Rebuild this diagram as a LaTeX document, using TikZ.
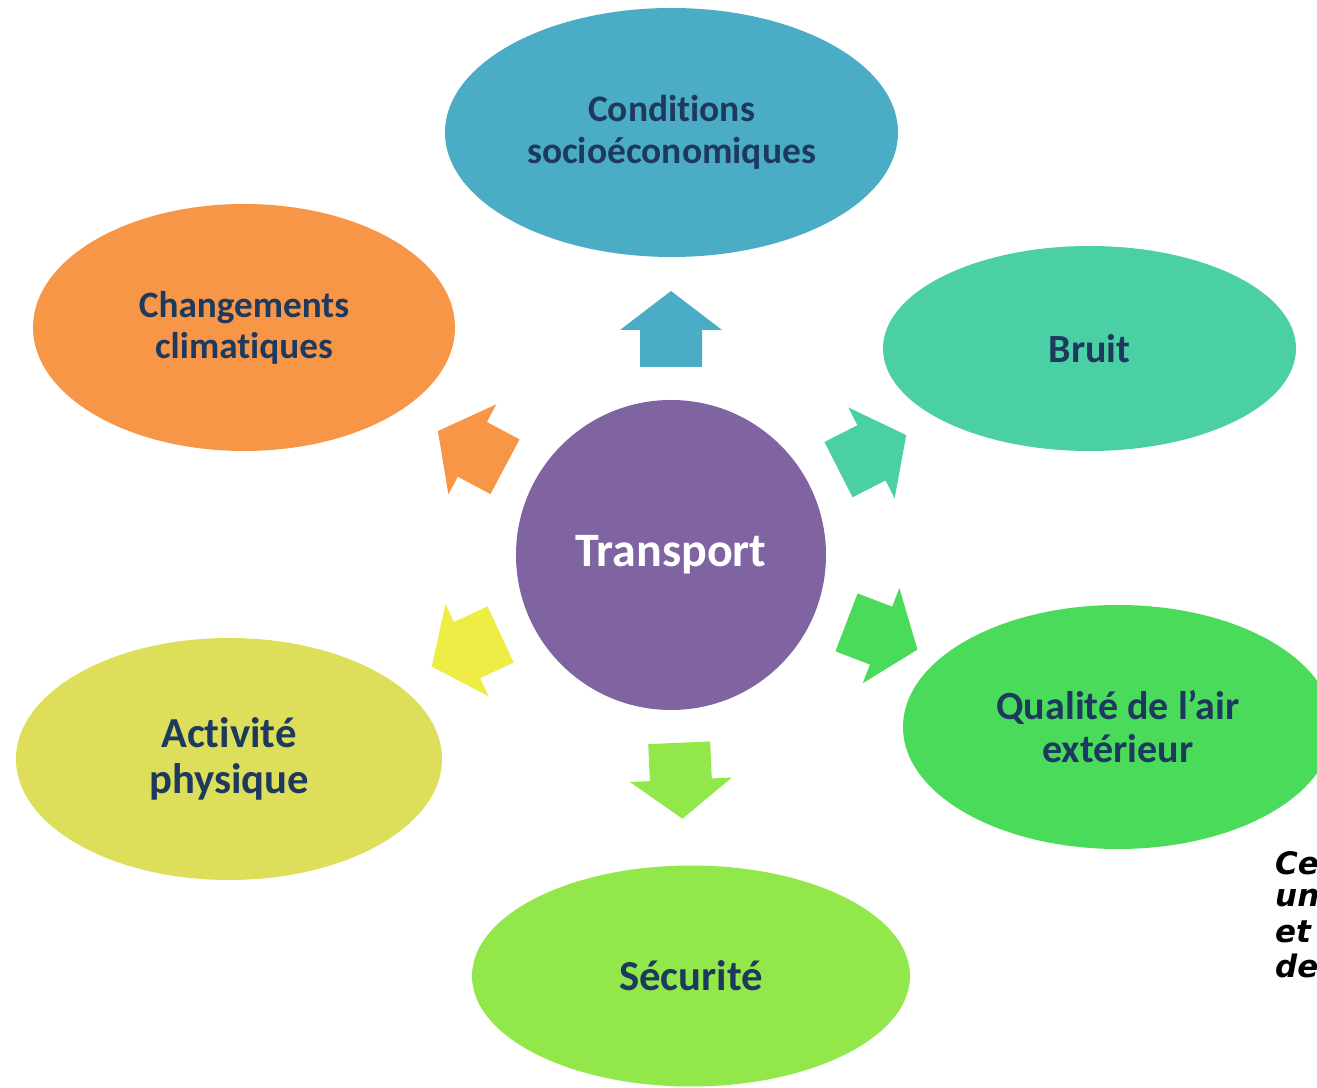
\documentclass[tikz,border=0pt]{standalone}
\usepackage{fontspec}
\setmainfont{Carlito}[Ligatures=NoCommon]
\newfontfamily\sidefont{DejaVu Sans}
\usetikzlibrary{shapes.geometric}
\definecolor{cCond}{HTML}{4BACC6}
\definecolor{cChg}{HTML}{F79646}
\definecolor{cBruit}{HTML}{4BD0A6}
\definecolor{cAir}{HTML}{4BDB5B}
\definecolor{cAct}{HTML}{DDDE5A}
\definecolor{cActArrow}{HTML}{EDED45}
\definecolor{cSec}{HTML}{92E84A}
\definecolor{cTrans}{HTML}{8064A2}
\definecolor{cText}{HTML}{1D3A5E}
\tikzset{
  topic/.style={ellipse, inner sep=0pt, align=center, text=cText, font=\bfseries},
  blockarrow/.style={fill=#1, draw=none},
  sidetext/.style={anchor=west, inner sep=0pt, font=\sidefont\bfseries\itshape\fontsize{31}{33}\selectfont},
}
\newcommand{\blockarr}[2]{%
  \begin{scope}[shift={(T.center)}, rotate=#1]
    \fill[blockarrow=#2] (188,-31) -- (225,-31) -- (225,-51) -- (264,0) -- (225,51) -- (225,31) -- (188,31) -- cycle;
  \end{scope}}
\begin{document}
\begin{tikzpicture}[x=1pt,y=1pt]
\useasboundingbox (0,0) rectangle (1317,1087);
\clip (0,0) rectangle (1317,1087);
\fill[white] (0,0) rectangle (1317,1087);
% central node
\node[circle, fill=cTrans, minimum size=310pt, inner sep=0pt, text=white, font=\bfseries\fontsize{48}{54}\selectfont] (T) at (671,532) {Transport};
% topics
\node[topic, fill=cCond, minimum width=453pt, minimum height=249pt, font=\bfseries\fontsize{37.5}{42}\selectfont] (cond) at (671.5,954.5) {Conditions\\socioéconomiques};
\node[topic, fill=cChg, minimum width=422pt, minimum height=247pt, font=\bfseries\fontsize{37.2}{41}\selectfont] (chg) at (244,759.5) {Changements\\climatiques};
\node[topic, fill=cBruit, minimum width=413pt, minimum height=205pt, font=\bfseries\fontsize{40}{43}\selectfont] (bruit) at (1089.5,738.5) {Bruit};
\node[topic, fill=cAir, minimum width=430pt, minimum height=244pt, font=\bfseries\fontsize{40}{43}\selectfont] (air) at (1118,360) {Qualité de l’air\\extérieur};
\node[topic, fill=cAct, minimum width=426pt, minimum height=242pt, font=\bfseries\fontsize{42.7}{46}\selectfont] (act) at (229,328) {Activité\\physique};
\node[topic, fill=cSec, minimum width=438pt, minimum height=221pt, font=\bfseries\fontsize{42.7}{46}\selectfont] (sec) at (691,111) {Sécurité};
% block arrows
\blockarr{90}{cCond}
\blockarr{152}{cChg}
\blockarr{27}{cBruit}
\blockarr{-21}{cAir}
\blockarr{205}{cActArrow}
\blockarr{-87.5}{cSec}
% cut-off side text
\node[sidetext] (s1) at (1275,224) {Ce};
\node[sidetext] (s2) at (1275,189) {un};
\node[sidetext] (s3) at (1275,155) {et};
\node[sidetext] (s4) at (1275,121) {de};
\end{tikzpicture}
\end{document}
